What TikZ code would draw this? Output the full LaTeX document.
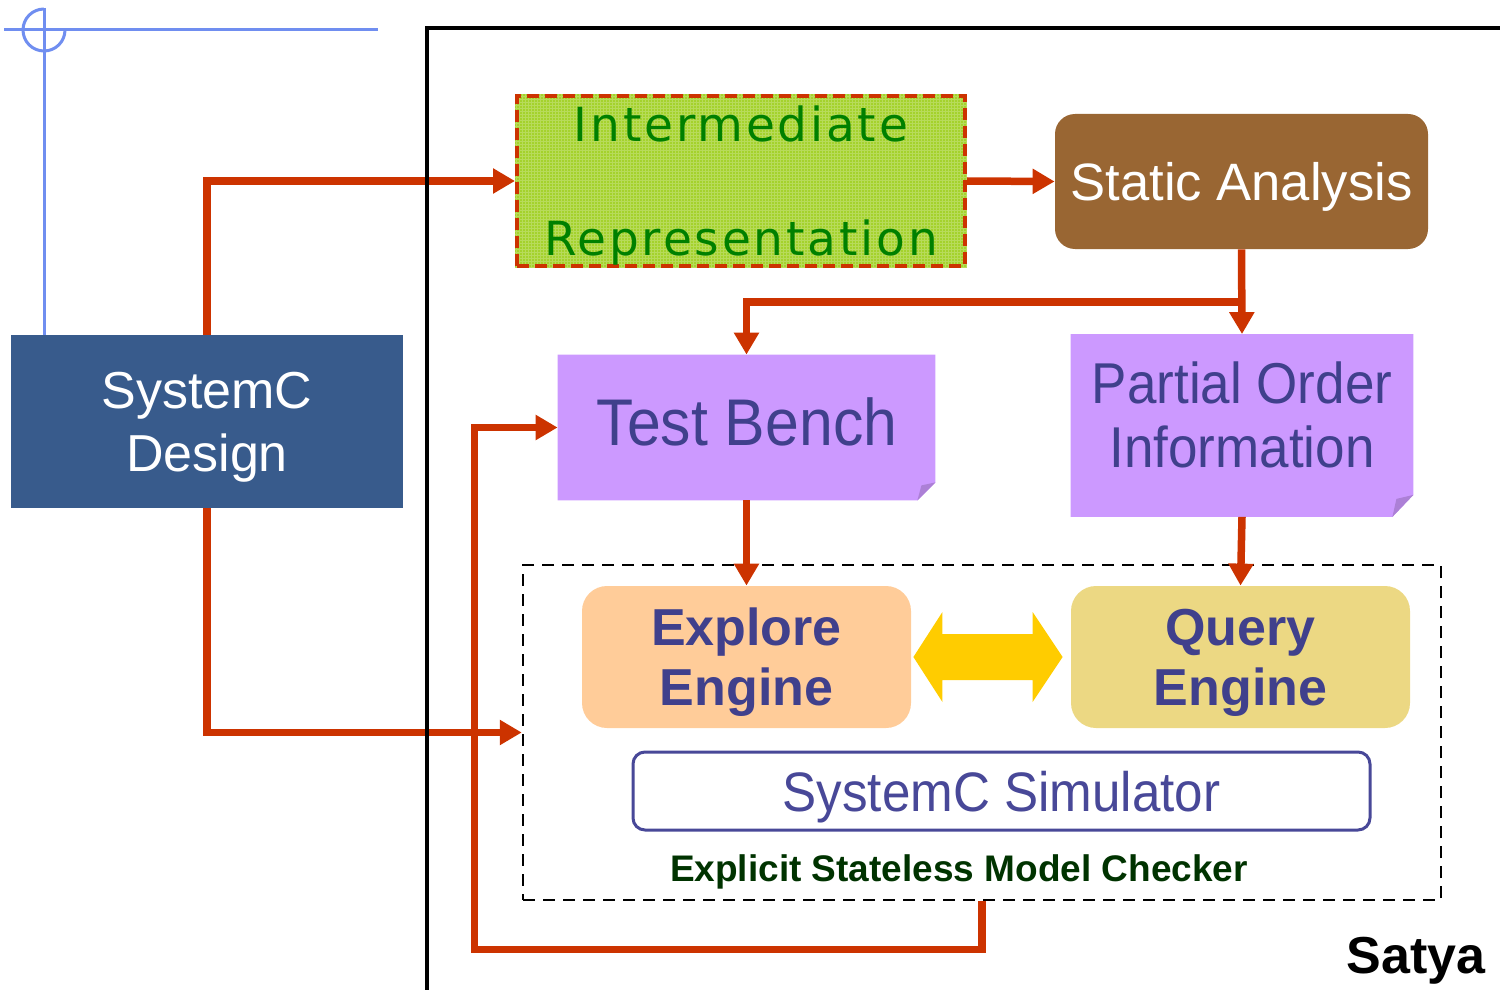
\documentclass[tikz,border=0pt]{standalone}
\usepackage{fontspec}
\setmainfont{Liberation Sans}
\newfontfamily\narrowfont{Liberation Sans}[FakeStretch=0.92]
\newfontfamily\irfont{DejaVu Sans}[LetterSpace=6]
\usetikzlibrary{arrows.meta,calc,backgrounds}

\definecolor{flowred}{HTML}{CC3300}
\definecolor{sysblue}{RGB}{56,91,140}
\definecolor{irgreen}{RGB}{164,210,44}
\definecolor{irtext}{RGB}{0,128,0}
\definecolor{sabrown}{HTML}{996633}
\definecolor{notefill}{HTML}{CC99FF}
\definecolor{notefold}{RGB}{172,128,214}
\definecolor{inktext}{RGB}{64,64,140}
\definecolor{explorefill}{HTML}{FFCC99}
\definecolor{queryfill}{RGB}{236,216,131}
\definecolor{arrowgold}{HTML}{FFCC00}
\definecolor{simblue}{RGB}{72,72,152}
\definecolor{checkgreen}{RGB}{0,51,0}
\definecolor{markblue}{RGB}{112,142,240}

\begin{document}
\begin{tikzpicture}[x=0.5pt,y=-0.5pt,
  redline/.style={draw=flowred, line width=3.75pt,
    -{Triangle[length=11pt,width=12pt]}},
  sysbox/.style={fill=sysblue, text=white, align=center, inner sep=0pt,
    text depth=0pt, minimum width=196pt, minimum height=86.5pt,
    font=\fontsize{26pt}{31.5pt}\selectfont},
  irbox/.style={draw=flowred, line width=2pt, dash pattern=on 6pt off 3pt,
    text=irtext, align=center, inner sep=0pt, text depth=0pt,
    minimum width=224pt, minimum height=85pt,
    font={\irfont\fontsize{23.5pt}{57pt}\selectfont}},
  sabox/.style={fill=sabrown, text=white, rounded corners=10pt, inner sep=0pt,
    text depth=0pt, minimum width=186.5pt, minimum height=67.5pt,
    font=\fontsize{26.3pt}{30pt}\selectfont},
  notebox/.style={inner sep=0pt},
  notetext/.style={text=inktext, align=center, inner sep=0pt},
  engine/.style={rounded corners=12.5pt, text=inktext, align=center, inner sep=0pt,
    text depth=0pt, minimum height=71pt,
    font=\bfseries\fontsize{26pt}{30pt}\selectfont},
  simbox/.style={draw=simblue, line width=1.5pt, rounded corners=6pt, fill=white,
    text=simblue, inner sep=0pt, text depth=0pt,
    minimum width=368.5pt, minimum height=39pt,
    font={\narrowfont\fontsize{27.8pt}{32pt}\selectfont}},
  checkbox/.style={draw=black, line width=1.25pt, dash pattern=on 6pt off 4pt,
    inner sep=0pt, minimum width=459pt, minimum height=167.5pt},
  framebar/.style={draw=black, line width=2.3pt},
  bluemark/.style={draw=markblue, line width=1.5pt}
]
\useasboundingbox (0,0) rectangle (1500,990);

% registration mark in the corner
\draw[bluemark] (4,30) -- (378,30);
\draw[bluemark] (44,9) arc[start angle=270, end angle=0, radius=21];

% boxes
\node[sysbox] (scd) at (207,421.5) {SystemC\\Design};
\draw[bluemark] (44,8) -- (44,0 |- scd.north);

\node[irbox] (ir) at (741,181) {Intermediate\\Representation};
\node[sabox] (sa) at (1241.5,181.5) {Static Analysis};

\node[notebox, minimum width=188.5pt, minimum height=72.5pt] (tb) at (746.5,427.5) {};
\node[notetext, font={\narrowfont\fontsize{33pt}{36pt}\selectfont}] (tbt)
  at (747,421.5) {Test Bench};
\node[notebox, minimum width=171pt, minimum height=91pt] (po) at (1242,425.5) {};
\node[notetext, font={\narrowfont\fontsize{28.8pt}{32pt}\selectfont}] (pot)
  at (1242,415) {Partial Order\\Information};

\node[checkbox] (mc) at (982,732.5) {};
\node[engine, fill=explorefill, minimum width=164.5pt] (ee) at (746.5,657) {Explore\\Engine};
\node[engine, fill=queryfill, minimum width=169.5pt] (qe) at (1240.5,657) {Query\\Engine};
\node[simbox] (sim) at (1001.5,791) {SystemC Simulator};
\node[text=checkgreen, inner sep=0pt, text depth=0pt,
  font=\bfseries\fontsize{18.5pt}{22pt}\selectfont]
  (mcl) at (959,868) {Explicit Stateless Model Checker};
\node[inner sep=0pt, text depth=0pt, font=\bfseries\fontsize{26pt}{30pt}\selectfont]
  (satya) at (1416,955) {Satya};

% fills behind the texts: gridded IR box and the folded notes
\begin{scope}[on background layer]
  \fill[irgreen] (ir.north west) rectangle (ir.south east);
  \begin{scope}
    \clip (ir.north west) rectangle (ir.south east);
    \draw[white, opacity=0.22, line width=0.35pt, step=1.5pt]
      (ir.north west) grid (ir.south east);
  \end{scope}
  \fill[notefill] (tb.north west) -- (tb.north east) -- ($(tb.south east)+(0,-18)$)
    -- ($(tb.south east)+(-18,0)$) -- (tb.south west) -- cycle;
  \fill[notefold] ($(tb.south east)+(-18,0)$) -- ($(tb.south east)+(-14,-15)$)
    -- ($(tb.south east)+(0,-18)$) -- cycle;
  \fill[notefill] (po.north west) -- (po.north east) -- ($(po.south east)+(0,-22)$)
    -- ($(po.south east)+(-21,0)$) -- (po.south west) -- cycle;
  \fill[notefold] ($(po.south east)+(-21,0)$) -- ($(po.south east)+(-17,-18)$)
    -- ($(po.south east)+(0,-22)$) -- cycle;
\end{scope}

% two-way link between the engines
\coordinate (dl) at ($(ee.east)+(2,0)$);
\coordinate (dr) at ($(qe.west)+(-8,0)$);
\fill[arrowgold] (dl) -- ($(dl)+(29,-45)$) -- ($(dl)+(29,-23)$) -- ($(dr)+(-30,-23)$)
  -- ($(dr)+(-30,-45)$) -- (dr) -- ($(dr)+(-30,45)$) -- ($(dr)+(-30,23)$)
  -- ($(dl)+(29,23)$) -- ($(dl)+(29,45)$) -- cycle;

% flow connectors
\draw[redline] (scd.north) |- (ir.west);
\draw[redline] (ir.east) -- (sa.west);
\draw[redline] (sa.south) -- (po.north);
\coordinate (br) at ($(sa.south)+(0,52.5)$);
\draw[redline] (br) -| (tb.north);
\draw[redline] (tb.south) -- (ee.north);
\draw[redline] (po.south) -- (qe.north);
\draw[redline] (scd.south) |- (mc.west);
\coordinate (lp) at ($(tb.west)+(-83,0)$);
\draw[redline] (mc.south) -- ++(0,48) -| (lp) -- (tb.west);

% tool frame
\draw[framebar] (427,990) -- (427,28) -- (1500,28);
\end{tikzpicture}
\end{document}
